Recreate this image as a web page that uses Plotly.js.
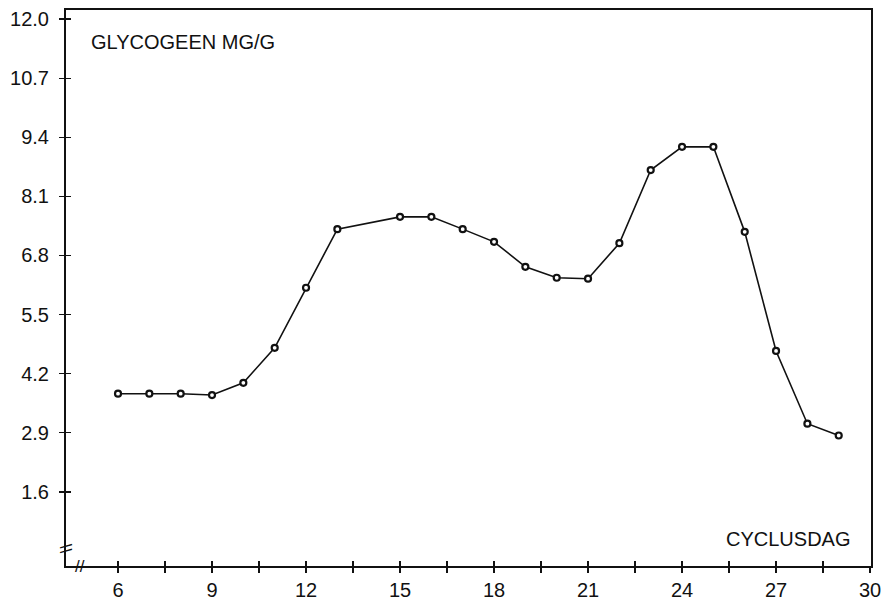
<!DOCTYPE html>
<html>
<head>
<meta charset="utf-8">
<script src="https://cdn.plot.ly/plotly-3.0.1.min.js"></script>
<style>
  html, body { margin: 0; padding: 0; background: #ffffff; }
  #chart { width: 882px; height: 604px; }
</style>
</head>
<body>
<div id="chart"></div>
<script>
// Glycogen content (mg/g) per day of the cycle
const days = [6, 7, 8, 9, 10, 11, 12, 13, 15, 16, 17, 18, 19, 20, 21, 22, 23, 24, 25, 26, 27, 28, 29];
const glycogen = [3.76, 3.76, 3.76, 3.73, 4.00, 4.77, 6.09, 7.38, 7.65, 7.65, 7.38, 7.10, 6.55, 6.31, 6.29, 7.07, 8.68, 9.19, 9.19, 7.32, 4.70, 3.10, 2.84];

// Axis ticks
const yTickVals = [1.6, 2.9, 4.2, 5.5, 6.8, 8.1, 9.4, 10.7, 12.0];
const yTickText = ['1.6', '2.9', '4.2', '5.5', '6.8', '8.1', '9.4', '10.7', '12.0'];
const xTickVals = [6, 7.5, 9, 10.5, 12, 13.5, 15, 16.5, 18, 19.5, 21, 22.5, 24, 25.5, 27, 28.5, 30];
const xTickText = ['6', '', '9', '', '12', '', '15', '', '18', '', '21', '', '24', '', '27', '', '30'];

const xRange = [4.34, 30.03];
const yRange = [-0.03, 12.2];
const ink = '#111111';
const font = { family: 'Liberation Sans, Arial, sans-serif', size: 20, color: ink };

const trace = {
  x: days,
  y: glycogen,
  type: 'scatter',
  mode: 'lines+markers',
  line: { color: ink, width: 1.6 },
  marker: { symbol: 'circle', size: 6, color: '#ffffff', line: { color: ink, width: 2.2 } },
  hoverinfo: 'x+y',
  showlegend: false
};

const layout = {
  width: 882,
  height: 604,
  margin: { l: 66, r: 11, t: 10, b: 38 },
  paper_bgcolor: '#ffffff',
  plot_bgcolor: '#ffffff',
  font: font,
  showlegend: false,
  xaxis: {
    range: xRange,
    tickvals: xTickVals,
    ticktext: xTickText,
    ticks: 'outside',
    ticklen: 5,
    tickwidth: 1.3,
    tickcolor: ink,
    showline: true,
    linecolor: ink,
    linewidth: 1.8,
    mirror: true,
    showgrid: false,
    zeroline: false,
    tickfont: font
  },
  yaxis: {
    range: yRange,
    tickvals: yTickVals,
    ticktext: yTickText,
    ticks: 'outside',
    ticklen: 5,
    tickwidth: 1.3,
    tickcolor: ink,
    ticklabelstandoff: 6,
    showline: true,
    linecolor: ink,
    linewidth: 2,
    mirror: true,
    showgrid: false,
    zeroline: false,
    tickfont: font
  },
  // second set of axes gives the ticks their inner half, so they cross the axis line
  xaxis2: {
    overlaying: 'x',
    anchor: 'y',
    side: 'bottom',
    range: xRange,
    tickvals: xTickVals,
    ticks: 'inside',
    ticklen: 5,
    tickwidth: 1.3,
    tickcolor: ink,
    showticklabels: false,
    showline: false,
    showgrid: false,
    zeroline: false
  },
  yaxis2: {
    overlaying: 'y',
    anchor: 'x',
    side: 'left',
    range: yRange,
    tickvals: yTickVals,
    ticks: 'inside',
    ticklen: 5,
    tickwidth: 1.3,
    tickcolor: ink,
    showticklabels: false,
    showline: false,
    showgrid: false,
    zeroline: false
  },
  annotations: [
    {
      text: 'GLYCOGEEN MG/G',
      xref: 'paper', yref: 'paper',
      x: 0.029, y: 0.942,
      xanchor: 'left', yanchor: 'middle',
      showarrow: false,
      font: font
    },
    {
      text: 'CYCLUSDAG',
      xref: 'paper', yref: 'paper',
      x: 0.977, y: 0.049,
      xanchor: 'right', yanchor: 'middle',
      showarrow: false,
      font: font
    },
    // axis break marks
    {
      text: '\\\\',
      xref: 'paper', yref: 'paper',
      x: 0.0, y: 0.032,
      xanchor: 'center', yanchor: 'middle',
      textangle: -90,
      showarrow: false,
      font: { family: font.family, size: 17, color: ink }
    },
    {
      text: '//',
      xref: 'paper', yref: 'paper',
      x: 0.018, y: 0.0,
      xanchor: 'center', yanchor: 'middle',
      showarrow: false,
      font: { family: font.family, size: 17, color: ink }
    }
  ]
};

// empty trace on the overlay axes so they are drawn
const overlay = {
  x: [], y: [], xaxis: 'x2', yaxis: 'y2', type: 'scatter', mode: 'lines',
  showlegend: false, hoverinfo: 'skip'
};

Plotly.newPlot('chart', [trace, overlay], layout, { displayModeBar: false, staticPlot: true });
</script>
</body>
</html>
